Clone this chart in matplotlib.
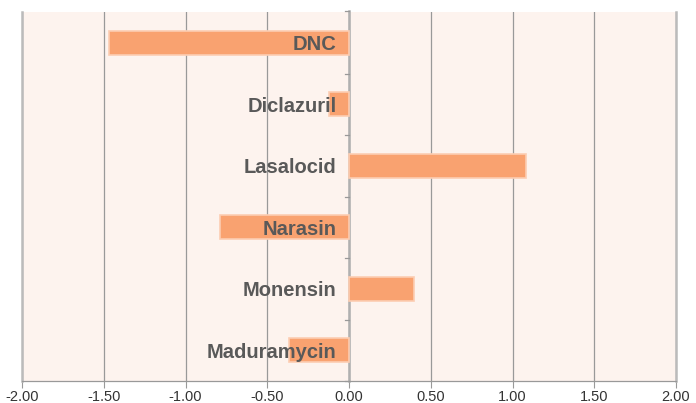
import matplotlib.pyplot as plt

# data
drugs = ['DNC', 'Diclazuril', 'Lasalocid', 'Narasin', 'Monensin', 'Maduramycin']
values = [-1.47, -0.12, 1.08, -0.79, 0.40, -0.37]
xticks = [-2.0, -1.5, -1.0, -0.5, 0.0, 0.5, 1.0, 1.5, 2.0]

plt.rcParams['font.family'] = ['Liberation Sans', 'DejaVu Sans']

W, H = 696, 403
fig = plt.figure(figsize=(W / 100, H / 100), dpi=100)
ax = fig.add_axes([22 / W, (H - 381) / H, (676 - 22) / W, (381 - 12) / H])
ax.set_facecolor('#fdf3ee')
fig.patch.set_facecolor('white')

n = len(drugs)
ypos = [n - 1 - i for i in range(n)]
ax.barh(ypos, values, height=0.39, color='#f9a270', edgecolor='#fccdb2',
        linewidth=1.2, zorder=3)

ax.set_xlim(-2, 2)
ax.set_ylim(-0.5, n - 0.5)
ax.set_xticks(xticks)
ax.set_xticklabels(['%.2f' % t for t in xticks], fontsize=10.5, color='#333333')
ax.xaxis.grid(True, color='#999999', linewidth=0.9, zorder=1)
ax.tick_params(axis='x', length=5, color='#999999', pad=1.5)

# category labels drawn next to the zero line
ax.set_yticks([])
for y, name in zip(ypos, drugs):
    ax.annotate(name, xy=(0, y), xytext=(-9, 0), textcoords='offset points',
                ha='right', va='center_baseline', fontsize=14.5,
                fontweight='bold', color='#595959', zorder=4)

# zero axis with small tick marks between categories
ax.plot([0, 0], [-0.5, n - 0.5 + 0.02], color='#b0b0b0', linewidth=1.8,
        zorder=2, clip_on=False)
for b in range(n + 1):
    yb = b - 0.5 + (0.02 if b == n else 0)
    ax.plot([-0.025, 0], [yb, yb], color='#999999', linewidth=0.9,
            zorder=2, clip_on=False)

ax.spines['top'].set_visible(False)
for s in ['left', 'right']:
    ax.spines[s].set_color('#bbbbbb')
    ax.spines[s].set_linewidth(1.8)
ax.spines['bottom'].set_color('#999999')
ax.spines['bottom'].set_linewidth(0.9)

fig.savefig('out.png', dpi=100)
